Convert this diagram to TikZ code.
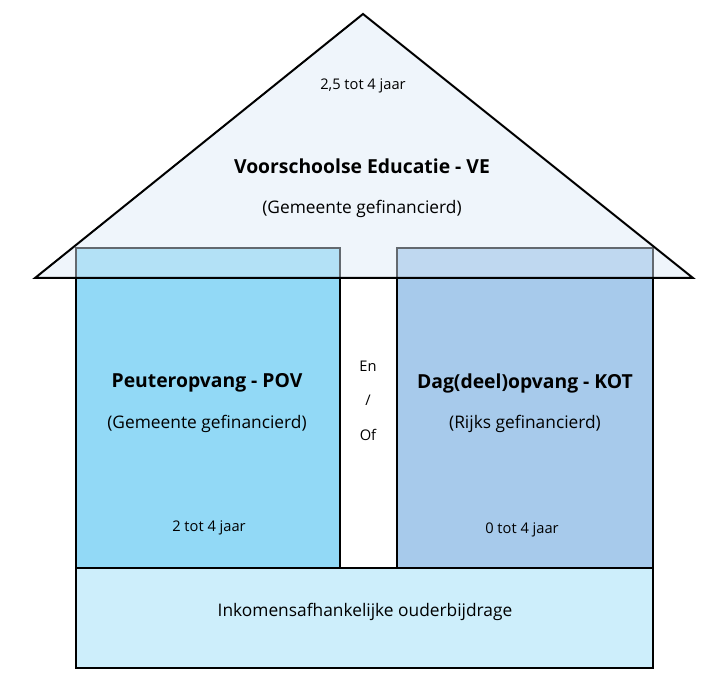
\documentclass[tikz,border=0pt]{standalone}
\usepackage{fontspec}
\setmainfont{Open Sans}
\definecolor{pov}{HTML}{92D9F6}
\definecolor{kot}{HTML}{A7CAEB}
\definecolor{bot}{HTML}{CDEEFB}
\definecolor{roof}{HTML}{DDEBF7}
\begin{document}
\begin{tikzpicture}[x=0.75pt,y=-0.75pt,
  box/.style={draw=black,line width=1.5pt},
  big/.style={font=\fontsize{14.5}{17}\selectfont\bfseries},
  mid/.style={font=\fontsize{13}{15}\selectfont},
  sm/.style={font=\fontsize{11}{13}\selectfont}]
\useasboundingbox (0,0) rectangle (719,681);
\fill[white] (0,0) rectangle (719,681);
\draw[box,fill=pov] (76,248) rectangle (340,568);
\draw[box,fill=kot] (397,248) rectangle (653,568);
\draw[box] (340,278) -- (340,568) (397,278) -- (397,568);
\draw[box,fill=bot] (76,568) rectangle (653,668);
\draw[box,fill=roof,fill opacity=0.45,line join=miter] (363,14) -- (693,278) -- (35,278) -- cycle;
\node[sm] (age) at (363,86) {2,5 tot 4 jaar};
\node[big] (ve) at (362,166) {Voorschoolse Educatie - VE};
\node[mid] (vef) at (362,209) {(Gemeente gefinancierd)};
\node[big] (pov) at (207,383) {Peuteropvang - POV};
\node[mid] (povf) at (207,424) {(Gemeente gefinancierd)};
\node[sm] (pova) at (209,528) {2 tot 4 jaar};
\node[big] (kot) at (525,383) {Dag(deel)opvang - KOT};
\node[mid] (kotf) at (525,424) {(Rijks gefinancierd)};
\node[sm] (kota) at (522,530) {0 tot 4 jaar};
\node[sm] (en) at (368,366) {En};
\node[sm] (sl) at (368,400) {/};
\node[sm] (of) at (368,435) {Of};
\node[mid] (ink) at (365,612) {Inkomensafhankelijke ouderbijdrage};
\end{tikzpicture}
\end{document}
